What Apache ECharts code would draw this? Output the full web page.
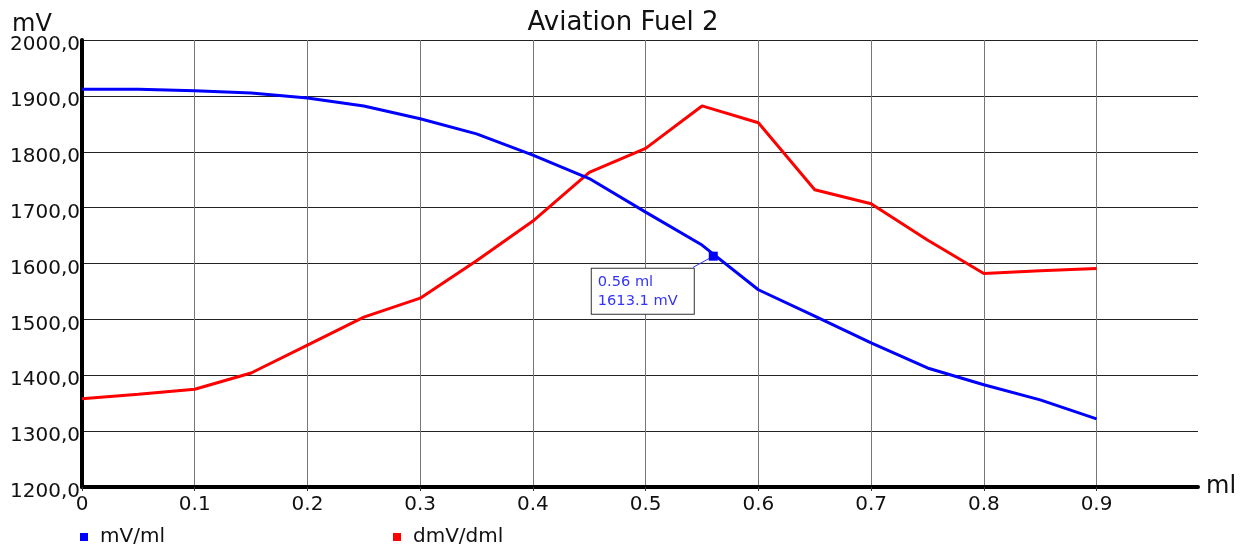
<!DOCTYPE html>
<html>
<head>
<meta charset="utf-8">
<script src="https://cdn.jsdelivr.net/npm/echarts@6/dist/echarts.min.js"></script>
<style>html,body{margin:0;padding:0;background:#fff}#c{width:1246px;height:548px}</style>
</head>
<body>
<div id="c"></div>
<script>
const titleText = 'Aviation Fuel 2';
const yUnit = 'mV';
const xUnit = 'ml';
const xValues = [0, 0.05, 0.1, 0.15, 0.2, 0.25, 0.3, 0.35, 0.4, 0.45, 0.5, 0.55, 0.6, 0.65, 0.7, 0.75, 0.8, 0.85, 0.9];
const mvMl = [1912, 1912, 1909, 1905, 1896, 1882, 1859, 1832, 1794, 1752, 1692, 1633, 1553, 1506, 1458, 1413, 1383, 1356, 1322];
const dmvDml = [1358, 1366, 1375, 1404, 1454, 1504, 1538, 1605, 1676, 1763, 1806, 1882, 1852, 1732, 1707, 1642, 1582, 1587, 1591];
const annotation = [0.56, 1613.1];
const seriesNames = ['mV/ml', 'dmV/dml'];

const font = 'DejaVu Sans';
const chart = echarts.init(document.getElementById('c'), null, {renderer: 'canvas'});
const pairs = arr => arr.map((v, i) => [xValues[i], v]);

chart.setOption({
  animation: false,
  backgroundColor: '#fff',
  title: [
    {text: titleText, left: 'center', top: 5,
     textStyle: {fontFamily: font, fontSize: 26, fontWeight: 'normal', color: '#111'}},
    {text: yUnit, left: 7, top: 8,
     textStyle: {fontFamily: font, fontSize: 24, fontWeight: 'normal', color: '#111'}}
  ],
  legend: [
    {data: [seriesNames[0]], left: 75, top: 522, itemWidth: 8, itemHeight: 8, icon: 'rect', itemGap: 12,
     textStyle: {fontFamily: font, fontSize: 20, color: '#111', padding: [0, 0, 0, 7]}},
    {data: [seriesNames[1]], left: 388, top: 522, itemWidth: 8, itemHeight: 8, icon: 'rect', itemGap: 12,
     textStyle: {fontFamily: font, fontSize: 20, color: '#111', padding: [0, 0, 0, 7]}}
  ],
  grid: {left: 82, right: 48, top: 40, bottom: 61, containLabel: false},
  xAxis: {
    type: 'value', min: 0, max: 0.99, interval: 0.1,
    name: xUnit, nameLocation: 'end', nameGap: 8,
    nameTextStyle: {fontFamily: font, fontSize: 24, color: '#111', verticalAlign: 'middle'},
    axisLine: {show: true, onZero: false, lineStyle: {color: '#000', width: 4}},
    axisTick: {show: true, length: 4, lineStyle: {color: '#333'}},
    axisLabel: {
      fontFamily: font, fontSize: 20, color: '#111', margin: 8, showMaxLabel: false,
      formatter: v => v > 0.95 ? '' : String(+v.toFixed(1))
    },
    splitLine: {show: true, showMaxLine: false, lineStyle: {color: '#777', width: 1}}
  },
  yAxis: {
    type: 'value', min: 1200, max: 2000, interval: 100,
    axisLine: {show: true, lineStyle: {color: '#000', width: 4}},
    axisTick: {show: false},
    axisLabel: {
      margin: 2,
      formatter: v => '{a|' + v.toFixed(1).replace('.', ',') + '}',
      rich: {a: {fontFamily: font, fontSize: 20, color: '#111', padding: [10, 0, 0, 0]}}
    },
    splitLine: {show: true, lineStyle: {color: '#222', width: 1}}
  },
  series: [
    {
      name: seriesNames[0], type: 'line', data: pairs(mvMl), showSymbol: false, symbol: 'none',
      lineStyle: {color: '#0000ff', width: 3}, itemStyle: {color: '#0000ff'}, z: 3,
      markPoint: {
        symbol: 'rect', symbolSize: 9, silent: true,
        itemStyle: {color: '#0000ff'},
        data: [{coord: annotation}],
        label: {
          show: true, position: [-117, 17],
          formatter: () => annotation[0] + ' ' + xUnit + '\n' + annotation[1] + ' ' + yUnit,
          fontFamily: font, fontSize: 14.6, lineHeight: 19, color: '#3333ff', align: 'left', verticalAlign: 'top',
          backgroundColor: '#fff', borderColor: '#333', borderWidth: 1, padding: [4, 6, 3, 6], width: 90
        }
      },
      markLine: {
        silent: true, symbol: 'none', animation: false,
        lineStyle: {color: '#3333ff', width: 1, type: 'solid'},
        label: {show: false},
        data: [[{coord: annotation}, {coord: [0.542, 1593]}]]
      }
    },
    {
      name: seriesNames[1], type: 'line', data: pairs(dmvDml), showSymbol: false, symbol: 'none',
      lineStyle: {color: '#ff0000', width: 3}, itemStyle: {color: '#ff0000'}, z: 2
    }
  ]
});
</script>
</body>
</html>
